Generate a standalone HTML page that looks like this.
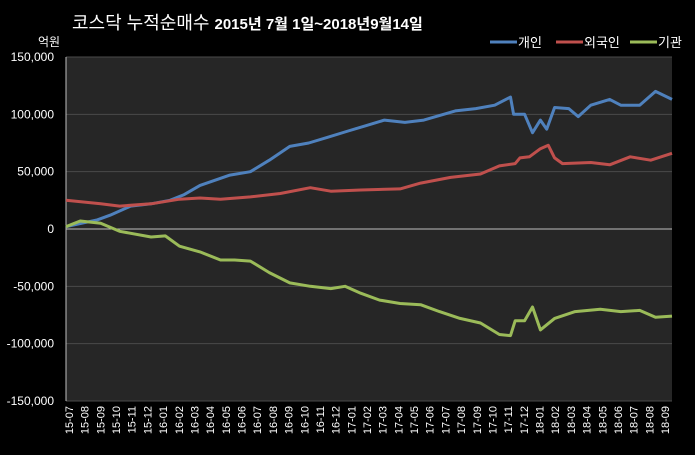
<!DOCTYPE html>
<html><head><meta charset="utf-8"><style>
body{margin:0;background:#000;}
svg text{font-family:"Liberation Sans","Noto Sans CJK KR",sans-serif;fill:#fff;}
</style></head><body>
<svg id="c" width="695" height="450" xmlns="http://www.w3.org/2000/svg">
<rect width="695" height="450" fill="#000"/>
<rect x="66" y="57" width="606" height="344" fill="#262626"/>
<text x="72" y="29" font-size="18">코스닥 누적순매수 <tspan font-weight="bold" font-size="15">2015년 7월 1일~2018년9월14일</tspan></text>
<text x="38" y="46" font-size="12">억원</text>
<g id="legend"></g>
<g id="grid"></g><g id="series"></g><g id="xl"></g>
</svg>
<script>
const yTicks=[150000,100000,50000,0,-50000,-100000,-150000];
const xLabels=["15-07","15-08","15-09","15-10","15-11","15-12","16-01","16-02","16-03","16-04","16-05","16-06","16-07","16-08","16-09","16-10","16-11","16-12","17-01","17-02","17-03","17-04","17-05","17-06","17-07","17-08","17-09","17-10","17-11","17-12","18-01","18-02","18-03","18-04","18-05","18-06","18-07","18-08","18-09"];
const seriesNames=["개인","외국인","기관"];
const indivT=[0,2,2.8,4.1,5.4,6.6,7.5,8.5,10.4,11.7,12.9,14.2,15.4,16.6,17.8,19,20.2,21.5,22.7,24.7,26,27.2,28.2,28.4,29.1,29.6,30.1,30.5,31,31.9,32.5,33.3,34.5,35.2,36.4,37.4,38.45];
const indivV=[2000,8000,12000,20000,22000,25000,30000,38000,47000,50000,60000,72000,75000,80000,85000,90000,95000,93000,95000,103000,105000,108000,115000,100000,100000,84000,95000,87000,106000,105000,98000,108000,113000,108000,108000,120000,113000];
const forT=[0,2.2,3.4,5.4,7.2,8.5,9.8,11.7,13.6,15.5,16.8,18.7,21.2,22.5,24.4,26.3,27.5,28.5,28.8,29.4,30.1,30.6,31,31.5,33.3,34.5,35.8,37.1,38.45];
const forV=[25000,22000,20000,22000,26000,27000,26000,28000,31000,36000,33000,34000,35000,40000,45000,48000,55000,57000,62000,63000,70000,73000,62000,57000,58000,56000,63000,60000,66000];
const instT=[0,0.9,2.2,3.4,5.4,6.3,7.2,8.5,9.8,10.7,11.7,12.9,14.2,15.5,16.8,17.7,18.7,19.9,21.2,22.5,23.7,25,26.3,27.5,28.2,28.5,29.1,29.6,30.1,31,32.3,33.9,35.2,36.4,37.4,38.45];
const instV=[2000,7000,5000,-2000,-7000,-6000,-15000,-20000,-27000,-27000,-28000,-38000,-47000,-50000,-52000,-50000,-56000,-62000,-65000,-66000,-72000,-78000,-82000,-92000,-93000,-80000,-80000,-68000,-88000,-78000,-72000,-70000,-72000,-71000,-77000,-76000];
const colors=["#4f81bd","#c0504d","#9bbb59"];
const NS="http://www.w3.org/2000/svg";
const X0=66,X1=672,Y0=57,Y1=401,TMAX=38.45;
function xs(t){return X0+t*(X1-X0)/TMAX;}
function ys(v){return 229-v*(Y1-Y0)/300000;}
function mk(tag,attrs,parent){const e=document.createElementNS(NS,tag);for(const k in attrs)e.setAttribute(k,attrs[k]);parent.appendChild(e);return e;}
const grid=document.getElementById('grid');
yTicks.forEach(v=>{
 const l=mk('line',{x1:X0,x2:X1,y1:ys(v),y2:ys(v),stroke:v===0?'#bfbfbf':'#4a4a4a','stroke-width':1},grid);
 
 
 const t=mk('text',{x:54,y:ys(v)+4,'font-size':12,'text-anchor':'end'},grid);
 t.textContent=v.toLocaleString('en-US');
 
 
});
const ax=mk('line',{x1:X0,x2:X0,y1:Y0,y2:Y1,stroke:'#bfbfbf'},grid);


const xl=document.getElementById('xl');
const step=(665-69)/(xLabels.length-1);
xLabels.forEach((s,i)=>{
 const x=69+i*step;
 const t=mk('text',{x:0,y:0,'font-size':11,'text-anchor':'end',transform:`translate(${x+4},406) rotate(-90)`},xl);
 t.textContent=s;
 
 
});
const ser=document.getElementById('series');
[[indivT,indivV],[forT,forV],[instT,instV]].forEach((d,k)=>{
 const pts=d[0].map((t,i)=>xs(t).toFixed(1)+','+ys(d[1][i]).toFixed(1)).join(' ');
 const p=mk('polyline',{points:pts,fill:'none',stroke:colors[k],'stroke-width':3,'stroke-linejoin':'round'},ser);
 
 
});
const lg=document.getElementById('legend');
const lx=[490,556,630];
seriesNames.forEach((n,k)=>{
 const l=mk('line',{x1:lx[k],x2:lx[k]+27,y1:42,y2:42,stroke:colors[k],'stroke-width':3},lg);
 
 
 const t=mk('text',{x:lx[k]+28,y:47,'font-size':13},lg);
 t.textContent=n;
 
 
});
</script>
</body></html>
